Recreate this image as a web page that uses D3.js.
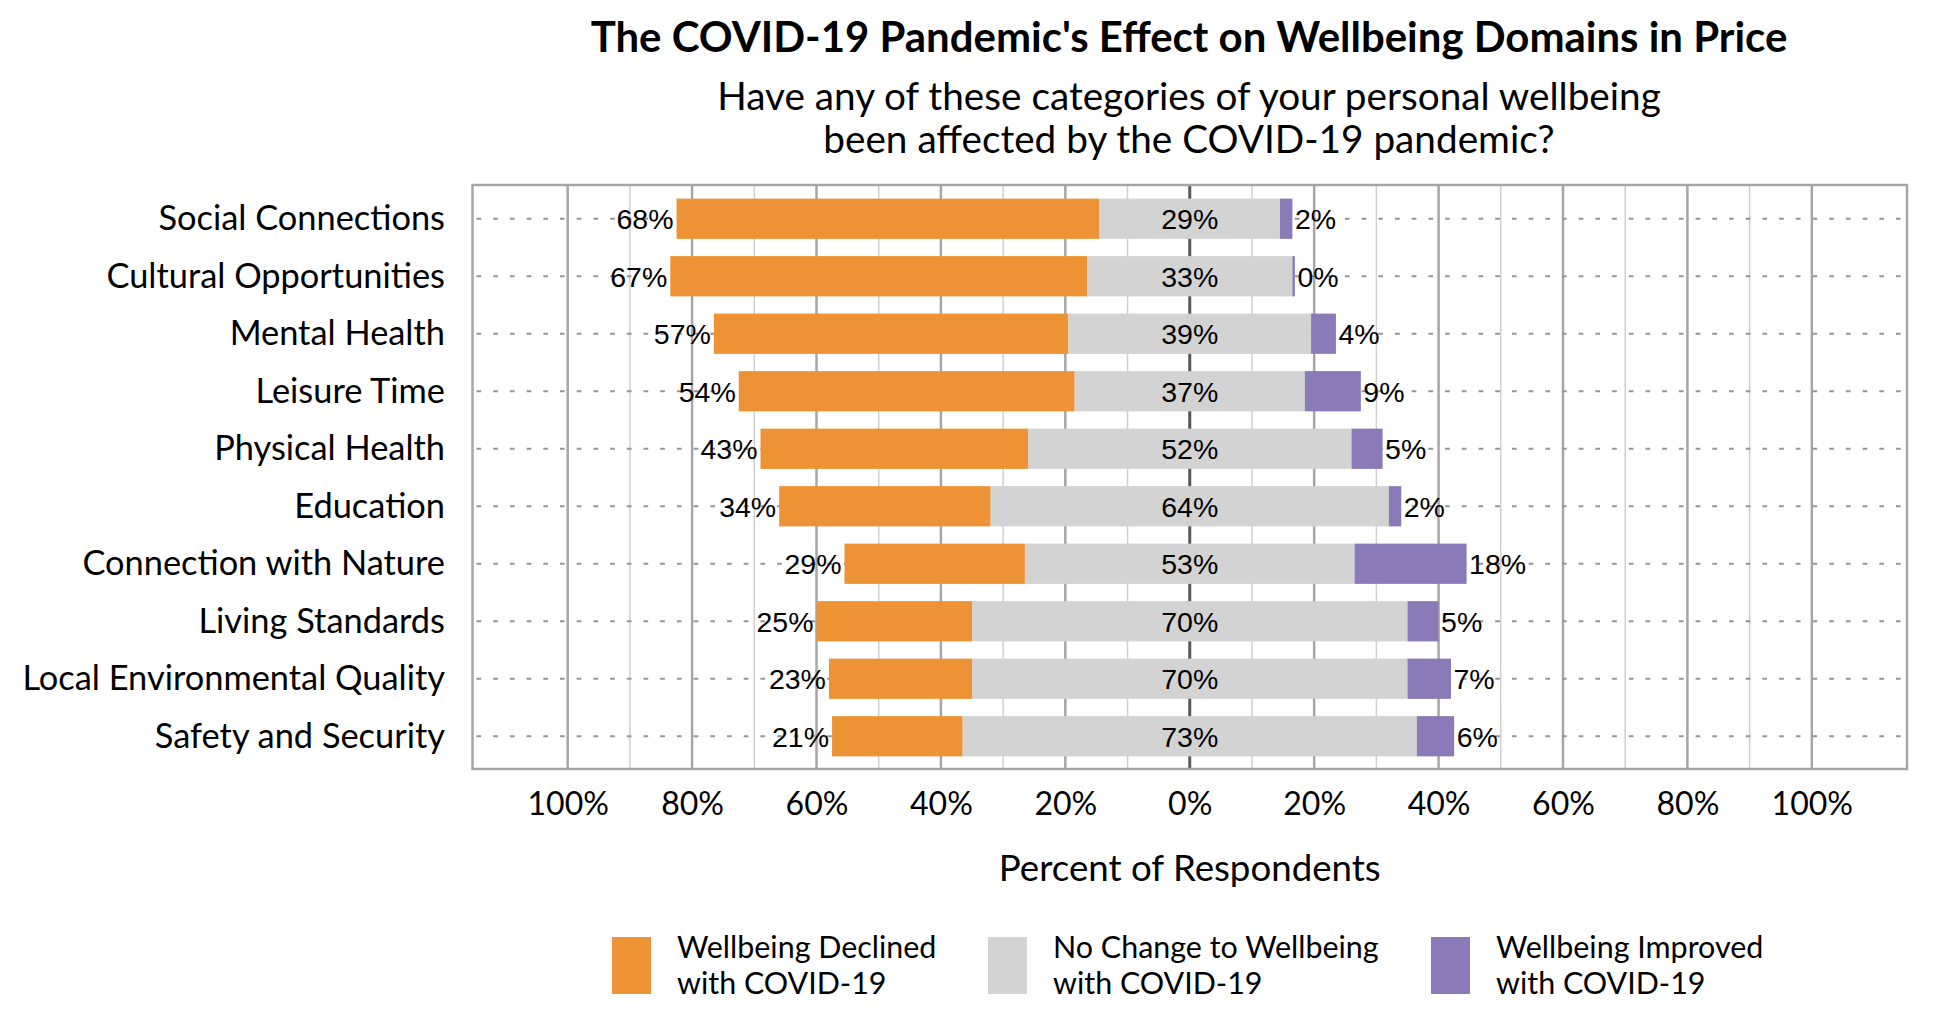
<!DOCTYPE html>
<html><head><meta charset="utf-8">
<script src="https://cdn.jsdelivr.net/npm/d3@7"></script>
<style>body{margin:0;background:#fff} svg{display:block}</style>
</head><body>
<svg id="chart" width="1950" height="1020"></svg>
<script>
// ---------- data ----------
const categories = ["Social Connections","Cultural Opportunities","Mental Health","Leisure Time","Physical Health","Education","Connection with Nature","Living Standards","Local Environmental Quality","Safety and Security"];
const declined = [68,67,57,54,43,34,29,25,23,21];
const noChange = [29,33,39,37,52,64,53,70,70,73];
const improved = [2,0.4,4,9,5,2,18,5,7,6];
const legendLines = [["Wellbeing Declined","with COVID-19"],["No Change to Wellbeing","with COVID-19"],["Wellbeing Improved","with COVID-19"]];
const tickValues = [-100,-80,-60,-40,-20,0,20,40,60,80,100];
const gridValues = d3.range(-100, 101, 10);
const title = "The COVID-19 Pandemic's Effect on Wellbeing Domains in Price";
const subtitle = ["Have any of these categories of your personal wellbeing","been affected by the COVID-19 pandemic?"];
const axisTitle = "Percent of Respondents";

const colors = ["#ED9335","#D3D3D3","#8A7BB8"];
const SANS = "Lato, 'Open Sans', 'Noto Sans', sans-serif";
const ARIAL = "'Liberation Sans', Arial, sans-serif";

const svg = d3.select("#chart");
const frame = {left:472.5, right:1907, top:185, bottom:769};

const x = d3.scaleLinear().domain([-115.3, 115.3]).range([frame.left, frame.right]);
const y = d3.scaleBand().domain(categories).range([190, 765]).paddingInner(0.3).paddingOuter(0.15);

// helper: measure width at 100px and return fitted size
function fitSize(text, family, weight, target) {
  const t = svg.append("text").attr("font-family", family).attr("font-weight", weight)
    .attr("font-size", 100).text(text);
  const w = t.node().getComputedTextLength();
  t.remove();
  return 100 * target / w;
}

// ---------- grid ----------
const grid = svg.append("g");
grid.selectAll("line.g").data(gridValues).join("line")
  .attr("x1", d => x(d)).attr("x2", d => x(d))
  .attr("y1", frame.top).attr("y2", frame.bottom)
  .attr("stroke", d => d === 0 ? "#595959" : (d % 20 === 0 ? "#A6A6A6" : "#D0D0D0"))
  .attr("stroke-width", d => d === 0 ? 3 : (d % 20 === 0 ? 2.5 : 1.5));

// dotted row lines
grid.selectAll("line.r").data(categories).join("line")
  .attr("x1", frame.left + 4).attr("x2", frame.right)
  .attr("y1", d => y(d) + y.bandwidth()/2).attr("y2", d => y(d) + y.bandwidth()/2)
  .attr("stroke", "#959595").attr("stroke-width", 1.8).attr("stroke-dasharray", "4.7,12");

// ---------- bars ----------
const rows = categories.map((c, i) => {
  const a = -noChange[i]/2 - declined[i], b = -noChange[i]/2, c2 = noChange[i]/2, d = noChange[i]/2 + improved[i];
  return {cat:c, segs:[[a,b],[b,c2],[c2,d]], vals:[declined[i], noChange[i], improved[i]]};
});
const bars = svg.append("g");
rows.forEach(r => {
  r.segs.forEach((s, k) => {
    bars.append("rect")
      .attr("x", x(s[0])).attr("width", Math.max(0, x(s[1]) - x(s[0])))
      .attr("y", y(r.cat)).attr("height", y.bandwidth())
      .attr("fill", colors[k]);
  });
});

// data labels
const labelSize = 28.5;
const lab = svg.append("g").attr("font-family", ARIAL).attr("font-size", labelSize).attr("fill", "#000");
rows.forEach(r => {
  const cy = y(r.cat) + y.bandwidth()/2;
  lab.append("text").attr("x", x(r.segs[0][0]) - 3).attr("y", cy).attr("dy", "0.36em")
    .attr("text-anchor", "end").text(Math.round(r.vals[0]) + "%");
  lab.append("text").attr("x", x(0)).attr("y", cy).attr("dy", "0.36em")
    .attr("text-anchor", "middle").text(Math.round(r.vals[1]) + "%");
  lab.append("text").attr("x", x(r.segs[2][1]) + 2.5).attr("y", cy).attr("dy", "0.36em")
    .attr("text-anchor", "start").text(Math.round(r.vals[2]) + "%");
});

// frame
svg.append("rect").attr("x", frame.left).attr("y", frame.top)
  .attr("width", frame.right - frame.left).attr("height", frame.bottom - frame.top)
  .attr("fill", "none").attr("stroke", "#A6A6A6").attr("stroke-width", 2.5);

// ---------- axes ----------
const catSize = (fitSize("Social Connections", SANS, 400, 285) + fitSize("Local Environmental Quality", SANS, 400, 425)) / 2;
const yAxis = svg.append("g").attr("transform", `translate(445,0)`)
  .call(d3.axisLeft(y).tickSize(0).tickPadding(0));
yAxis.select(".domain").remove();
yAxis.selectAll("text").attr("font-family", SANS).attr("font-size", catSize)
  .attr("fill", "#000").attr("x", 0).attr("dy", "0.33em");

const tickSize = fitSize("100%", SANS, 400, 81.5);
const xAxis = svg.append("g").attr("transform", `translate(0,${frame.bottom})`)
  .call(d3.axisBottom(x).tickValues(tickValues).tickSize(0).tickFormat(d => Math.abs(d) + "%"));
xAxis.select(".domain").remove();
xAxis.selectAll("text").attr("font-family", SANS).attr("font-size", tickSize)
  .attr("fill", "#000").attr("y", 46).attr("dy", 0);

const atSize = fitSize(axisTitle, SANS, 400, 382);
svg.append("text").attr("x", x(0)).attr("y", 881).attr("text-anchor", "middle")
  .attr("font-family", SANS).attr("font-size", atSize).attr("fill", "#000").text(axisTitle);

// ---------- titles ----------
const tSize = fitSize(title, SANS, 700, 1197);
svg.append("text").attr("x", 1189).attr("y", 52).attr("text-anchor", "middle")
  .attr("font-family", SANS).attr("font-weight", 700).attr("font-size", tSize).attr("fill", "#000").text(title);
const sSize = fitSize(subtitle[0], SANS, 400, 944);
subtitle.forEach((s, i) => {
  svg.append("text").attr("x", 1189).attr("y", 110 + i*43).attr("text-anchor", "middle")
    .attr("font-family", SANS).attr("font-size", sSize).attr("fill", "#000").text(s);
});

// ---------- legend ----------
const legSize = fitSize(legendLines[0][0], SANS, 400, 259.5);
const swX = [612, 988, 1431];
const lg = svg.append("g");
legendLines.forEach((lines, k) => {
  lg.append("rect").attr("x", swX[k]).attr("y", 937).attr("width", 39).attr("height", 57).attr("fill", colors[k]);
  lines.forEach((ln, j) => {
    lg.append("text").attr("x", swX[k] + 65).attr("y", 958 + j*36)
      .attr("font-family", SANS).attr("font-size", legSize).attr("fill", "#000").text(ln);
  });
});
</script>
</body></html>
